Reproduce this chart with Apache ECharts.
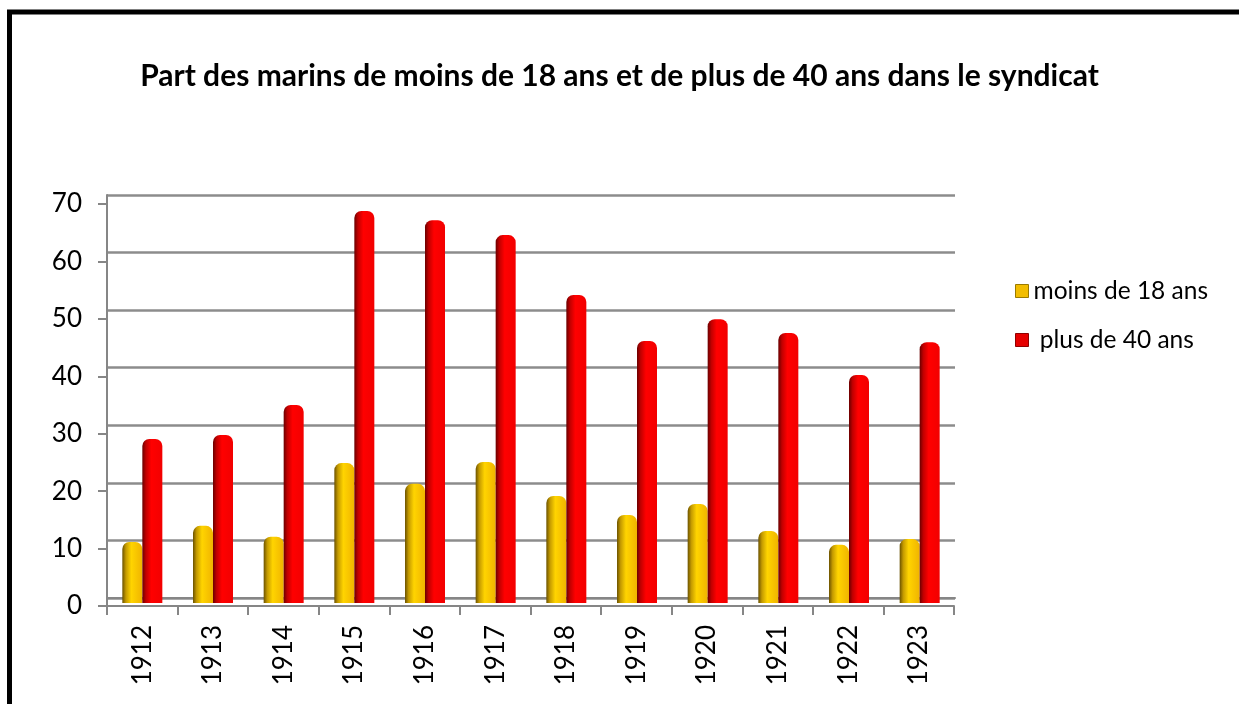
<!DOCTYPE html>
<html>
<head>
<meta charset="utf-8">
<script src="https://cdn.jsdelivr.net/npm/echarts@6/dist/echarts.min.js"></script>
<style>
  html, body { margin: 0; padding: 0; background: #fff; }
  #chart { width: 1239px; height: 704px; }
</style>
</head>
<body>
<div id="chart"></div>
<script>
// donnees
var annees = ['1912', '1913', '1914', '1915', '1916', '1917', '1918', '1919', '1920', '1921', '1922', '1923'];
var moins18 = [10.6, 13.4, 11.5, 24.3, 20.7, 24.5, 18.6, 15.3, 17.2, 12.5, 10.1, 11.1];
var plus40 = [28.5, 29.2, 34.4, 68.1, 66.5, 63.9, 53.5, 45.5, 49.3, 46.9, 39.6, 45.3];
var yTicks = [0, 10, 20, 30, 40, 50, 60, 70];

var fontFam = 'Lato, "Open Sans", sans-serif';
var axisGray = '#868686';

function cylindre(c0, c1, c2, c3) {
    return {
        type: 'linear', x: 0, y: 0, x2: 1, y2: 0,
        colorStops: [
            {offset: 0, color: c0},
            {offset: 0.18, color: c1},
            {offset: 0.45, color: c2},
            {offset: 1, color: c3}
        ]
    };
}
var jaune = cylindre('#6b5200', '#c49a00', '#ffd400', '#f0b400');
var rouge = cylindre('#6a0000', '#c00000', '#ff0000', '#f20000');

var yMin = yTicks[0], yMax = yTicks[yTicks.length - 1];

var option = {
    animation: false,
    backgroundColor: '#fff',
    title: {
        text: 'Part des marins de moins de 18 ans et de plus de 40 ans dans le syndicat',
        left: 'center',
        top: 56,
        textStyle: {fontFamily: fontFam, fontWeight: 'bold', fontSize: 30, color: '#000'}
    },
    legend: {
        orient: 'vertical',
        left: 1010,
        top: 272,
        itemWidth: 13,
        itemHeight: 13,
        itemGap: 21,
        icon: 'rect',
        textStyle: {fontFamily: fontFam, fontSize: 24.5, color: '#000', lineHeight: 28},
        data: [
            {name: 'moins de 18 ans', itemStyle: {color: '#f2bd00', borderColor: '#9a7a00', borderWidth: 1}},
            {name: ' plus de 40 ans', itemStyle: {color: '#e60000', borderColor: '#900000', borderWidth: 1}}
        ]
    },
    graphic: [{
        type: 'rect',
        shape: {x: 9.5, y: 12, width: 1400, height: 900},
        style: {fill: null, stroke: '#000', lineWidth: 5},
        z: 100
    }],
    grid: [
        // paroi du fond
        {left: 107, right: 284, top: 195, bottom: 106},
        // axes avant
        {left: 107, right: 285, top: 204, bottom: 98},
        // barres
        {left: 107, right: 284, top: 200, bottom: 101}
    ],
    xAxis: [
        {gridIndex: 0, type: 'category', data: annees, axisLine: {show: true, lineStyle: {color: axisGray, width: 2}},
         axisTick: {show: false}, axisLabel: {show: false}},
        {gridIndex: 1, type: 'category', data: annees,
         axisLine: {show: true, lineStyle: {color: axisGray, width: 2}},
         axisTick: {show: true, length: 9, lineStyle: {color: axisGray, width: 2}},
         axisLabel: {rotate: 90, margin: 19, fontFamily: fontFam, fontSize: 26, color: '#000'}},
        {gridIndex: 2, type: 'category', data: annees, show: false}
    ],
    yAxis: [
        {gridIndex: 0, type: 'value', min: yMin, max: yMax, interval: 10,
         axisLine: {show: true, lineStyle: {color: axisGray, width: 2}},
         axisTick: {show: false}, axisLabel: {show: false},
         splitLine: {show: true, lineStyle: {color: '#8c8c8c', width: 2.5}}},
        {gridIndex: 1, type: 'value', min: yMin, max: yMax, interval: 10,
         axisLine: {show: true, lineStyle: {color: axisGray, width: 2}},
         axisTick: {show: true, length: 9, lineStyle: {color: axisGray, width: 2}},
         axisLabel: {margin: 25, fontFamily: fontFam, fontSize: 26, color: '#000'},
         splitLine: {show: false}},
        {gridIndex: 2, type: 'value', min: yMin, max: yMax, interval: 10, show: false, splitLine: {show: false}}
    ],
    series: [
        {
            name: 'moins de 18 ans',
            type: 'bar',
            xAxisIndex: 2, yAxisIndex: 2,
            data: moins18,
            barWidth: 20,
            barGap: '0%',
            itemStyle: {color: jaune, borderRadius: [7, 7, 0, 0]}
        },
        {
            name: ' plus de 40 ans',
            type: 'bar',
            xAxisIndex: 2, yAxisIndex: 2,
            data: plus40,
            barWidth: 20,
            barGap: '0%',
            itemStyle: {color: rouge, borderRadius: [7, 7, 0, 0]}
        }
    ]
};

var myChart = echarts.init(document.getElementById('chart'));
myChart.setOption(option);
</script>
</body>
</html>
